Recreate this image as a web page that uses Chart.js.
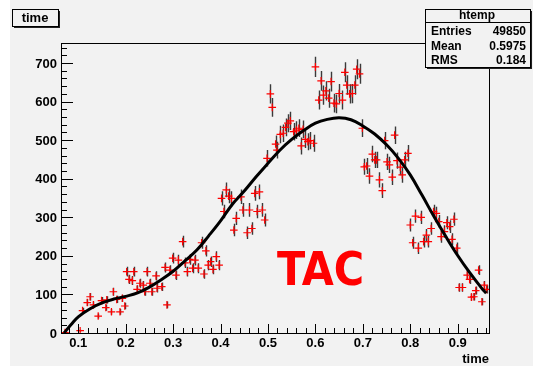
<!DOCTYPE html>
<html>
<head>
<meta charset="utf-8">
<script src="https://cdn.jsdelivr.net/npm/chart.js@4/dist/chart.umd.min.js"></script>
<style>
  html, body { margin: 0; padding: 0; background: #fff; }
  canvas { display: block; }
</style>
</head>
<body>
<canvas id="chart-tac" width="533" height="366"></canvas>
<script>
// histogram bins (time) and their counts
const TIME = [
    0.072, 0.104, 0.109, 0.119, 0.125, 0.132, 0.142, 0.149, 0.158, 0.160,
    0.170, 0.174, 0.181, 0.188, 0.193, 0.198, 0.202, 0.207, 0.214, 0.217,
    0.224, 0.230, 0.237, 0.240, 0.245, 0.251, 0.255, 0.264, 0.266, 0.276,
    0.283, 0.287, 0.293, 0.299, 0.306, 0.311, 0.320, 0.325, 0.330, 0.335,
    0.341, 0.346, 0.353, 0.360, 0.365, 0.369, 0.374, 0.379, 0.384, 0.391,
    0.397, 0.402, 0.407, 0.412, 0.417, 0.423, 0.428, 0.433, 0.443, 0.447,
    0.456, 0.461, 0.466, 0.472, 0.477, 0.482, 0.488, 0.493, 0.498, 0.505,
    0.509, 0.516, 0.519, 0.526, 0.532, 0.537, 0.542, 0.547, 0.554, 0.560,
    0.565, 0.570, 0.574, 0.579, 0.584, 0.589, 0.596, 0.600, 0.607, 0.612,
    0.617, 0.622, 0.628, 0.633, 0.639, 0.644, 0.650, 0.657, 0.662, 0.666,
    0.672, 0.678, 0.683, 0.687, 0.693, 0.699, 0.703, 0.708, 0.714, 0.720,
    0.725, 0.729, 0.735, 0.741, 0.746, 0.751, 0.756, 0.762, 0.767, 0.772,
    0.779, 0.783, 0.788, 0.795, 0.800, 0.805, 0.811, 0.817, 0.823, 0.828,
    0.834, 0.838, 0.844, 0.849, 0.855, 0.860, 0.865, 0.872, 0.877, 0.883,
    0.888, 0.892, 0.898, 0.903, 0.910, 0.920, 0.925, 0.929, 0.934, 0.938,
    0.944, 0.951, 0.956, 0.961
];
const COUNTS = [
    1, 6, 58, 79, 94, 73, 44, 84, 66, 86,
    55, 107, 87, 55, 90, 70, 159, 139, 136, 159,
    113, 129, 124, 107, 159, 129, 107, 148, 116, 120,
    170, 73, 163, 194, 150, 189, 237, 182, 159, 191,
    168, 189, 168, 234, 153, 213, 176, 185, 165, 198,
    176, 349, 315, 371, 355, 349, 267, 297, 353, 319,
    260, 319, 271, 362, 315, 366, 319, 293, 453, 620,
    585, 490, 474, 515, 518, 533, 544, 550, 522, 526,
    531, 485, 528, 502, 496, 499, 492, 690, 604, 654,
    617, 628, 609, 652, 596, 594, 621, 604, 676, 643,
    620, 621, 643, 684, 672, 531, 431, 433, 407, 464,
    449, 449, 397, 369, 499, 444, 436, 404, 513, 447,
    430, 410, 449, 466, 280, 234, 303, 220, 300, 237,
    254, 237, 271, 315, 310, 289, 250, 263, 286, 276,
    243, 295, 220, 118, 118, 150, 139, 93, 94, 110,
    163, 81, 124, 113
];

// fitted curve
const FIT_TIME = [0.070, 0.085, 0.100, 0.125, 0.150, 0.175, 0.200, 0.225, 0.250, 0.275,
    0.300, 0.325, 0.350, 0.375, 0.400, 0.425, 0.450, 0.475, 0.500, 0.525,
    0.550, 0.575, 0.600, 0.625, 0.650, 0.675, 0.700, 0.725, 0.750, 0.775,
    0.800, 0.825, 0.850, 0.875, 0.900, 0.925, 0.950, 0.960];
const FIT_COUNTS = [0, 22, 42, 63, 78, 88, 95, 104, 119, 138,
    160, 187, 215, 252, 291, 334, 368, 405, 440, 474,
    502, 525, 544, 554, 558, 553, 537, 516, 488, 453,
    410, 357, 302, 250, 201, 157, 117, 103];

const Y_LABELS = ['0', '100', '200', '300', '400', '500', '600', '700'];
const X_LABELS = ['0.1', '0.2', '0.3', '0.4', '0.5', '0.6', '0.7', '0.8', '0.9'];

const STATS = [['Entries', '49850'], ['Mean', '0.5975'], ['RMS', '0.184']];

const BG = '#f2f2f2';
const FONT = '"Liberation Sans", Arial, sans-serif';

function shadowBox(ctx, x, y, w, h) {
    ctx.fillStyle = '#222';
    ctx.fillRect(x + 2, y + 2, w, h);
    ctx.fillStyle = BG;
    ctx.fillRect(x, y, w, h);
    ctx.strokeStyle = '#000';
    ctx.lineWidth = 1;
    ctx.strokeRect(x + 0.5, y + 0.5, w, h);
}

const rootLook = {
    id: 'rootLook',
    beforeDraw(chart) {
        const ctx = chart.ctx;
        ctx.save();
        ctx.fillStyle = '#fff';
        ctx.fillRect(0, 0, chart.width, chart.height);
        ctx.fillStyle = BG;
        ctx.fillRect(10, 0, chart.width - 10, chart.height);
        ctx.restore();
    },
    beforeDatasetsDraw(chart) {
        // error bars, sqrt(N)
        const ctx = chart.ctx;
        const xs = chart.scales.x, ys = chart.scales.y;
        ctx.save();
        ctx.strokeStyle = '#3a3a3a';
        ctx.lineWidth = 1.4;
        ctx.beginPath();
        for (let i = 0; i < TIME.length; i++) {
            const px = Math.round(xs.getPixelForValue(TIME[i])) + 0.5;
            const err = Math.sqrt(COUNTS[i]);
            ctx.moveTo(px, ys.getPixelForValue(COUNTS[i] - err));
            ctx.lineTo(px, ys.getPixelForValue(COUNTS[i] + err));
        }
        ctx.stroke();
        ctx.restore();
    },
    afterDraw(chart) {
        const ctx = chart.ctx;
        const a = chart.chartArea;
        const xs = chart.scales.x, ys = chart.scales.y;
        ctx.save();

        // frame
        ctx.strokeStyle = '#000';
        ctx.lineWidth = 1;
        ctx.strokeRect(a.left + 0.5, a.top + 0.5, a.right - a.left, a.bottom - a.top);

        // y ticks
        ctx.beginPath();
        for (let v = 0; v <= ys.max; v += 20) {
            const py = Math.round(ys.getPixelForValue(v)) + 0.5;
            const len = v % 100 === 0 ? 12 : 6;
            ctx.moveTo(a.left, py);
            ctx.lineTo(a.left + len, py);
        }
        // x ticks
        for (let k = 0; k <= 50; k++) {
            const v = k / 50;
            if (v < xs.min || v > xs.max) continue;
            const px = Math.round(xs.getPixelForValue(v)) + 0.5;
            const len = k % 5 === 0 ? 9 : 5;
            ctx.moveTo(px, a.bottom);
            ctx.lineTo(px, a.bottom - len);
        }
        ctx.stroke();

        ctx.fillStyle = '#000';
        ctx.font = 'bold 13px ' + FONT;
        ctx.textAlign = 'right';
        ctx.textBaseline = 'middle';
        Y_LABELS.forEach(function(t) {
            ctx.fillText(t, a.left - 4, ys.getPixelForValue(Number(t)) + 1);
        });
        ctx.textAlign = 'center';
        ctx.textBaseline = 'top';
        X_LABELS.forEach(function(t) {
            ctx.fillText(t, xs.getPixelForValue(Number(t)), a.bottom + 4);
        });
        ctx.textAlign = 'right';
        ctx.fillText('time', a.right, a.bottom + 20);

        // title box
        shadowBox(ctx, 12, 9, 46, 17);
        ctx.fillStyle = '#000';
        ctx.font = 'bold 13px ' + FONT;
        ctx.textAlign = 'center';
        ctx.textBaseline = 'middle';
        ctx.fillText('time', 35, 18);

        // stats box
        shadowBox(ctx, 425, 9, 105, 58);
        ctx.beginPath();
        ctx.moveTo(425, 22.5);
        ctx.lineTo(530, 22.5);
        ctx.stroke();
        ctx.fillStyle = '#000';
        ctx.font = 'bold 12px ' + FONT;
        ctx.textAlign = 'center';
        ctx.fillText('htemp', 477, 16);
        STATS.forEach(function(row, i) {
            const y = 32 + i * 14.3;
            ctx.textAlign = 'left';
            ctx.fillText(row[0], 431, y);
            ctx.textAlign = 'right';
            ctx.fillText(row[1], 526, y);
        });

        // TAC label
        ctx.fillStyle = '#ff0000';
        ctx.font = 'bold 46px "Liberation Sans Narrow", "DejaVu Sans Condensed", sans-serif';
        ctx.textAlign = 'left';
        ctx.textBaseline = 'alphabetic';
        ctx.fillText('TAC', 277, 285);

        ctx.restore();
    }
};

new Chart(document.getElementById('chart-tac'), {
    type: 'scatter',
    data: {
        datasets: [
            {
                label: 'htemp',
                data: TIME.map(function(t, i) { return { x: t, y: COUNTS[i] }; }),
                pointStyle: 'cross',
                pointRadius: 3.8,
                borderColor: '#ff0000',
                backgroundColor: '#ff0000',
                borderWidth: 1.2,
                order: 2
            },
            {
                label: 'fit',
                type: 'line',
                data: FIT_TIME.map(function(t, i) { return { x: t, y: FIT_COUNTS[i] }; }),
                borderColor: '#000',
                borderWidth: 3,
                pointRadius: 0,
                fill: false,
                tension: 0.4,
                order: 1
            }
        ]
    },
    options: {
        responsive: false,
        devicePixelRatio: 1,
        animation: false,
        layout: { padding: { left: 61, top: 43, right: 44, bottom: 33 } },
        plugins: {
            legend: { display: false },
            tooltip: { enabled: false }
        },
        scales: {
            x: { type: 'linear', min: 0.0636, max: 0.966, display: false },
            y: { type: 'linear', min: 0, max: 752, display: false }
        }
    },
    plugins: [rootLook]
});
</script>
</body>
</html>
